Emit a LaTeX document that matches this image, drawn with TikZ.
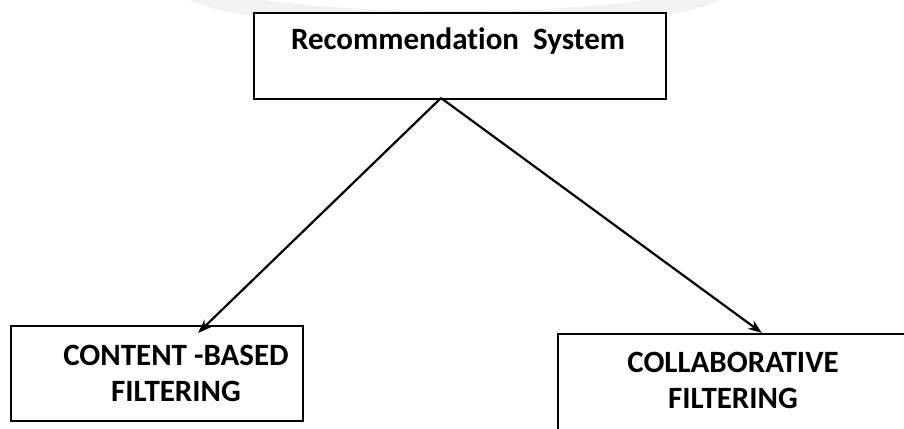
\documentclass[tikz,border=0pt]{standalone}
\usepackage{fontspec}
\setmainfont[Ligatures=NoCommon]{Carlito}
\usetikzlibrary{arrows.meta}
\tikzset{
  boxshape/.style={draw=black, line width=2.2pt, fill=white, rectangle, inner sep=0pt},
  boxtext/.style={font=\fontsize{31}{36}\selectfont\bfseries, align=center, inner sep=0pt},
  link/.style={line width=2.2pt, -{Stealth[length=14pt,width=10pt]}}
}
\begin{document}
\begin{tikzpicture}[x=1pt,y=-1pt]
  \useasboundingbox (0,0) rectangle (904,428);
  % faint watermark arc
  \draw[gray!10, line width=18pt] (190,-10) .. controls (260,30) and (650,30) .. (720,-10);
  % top box
  \node[boxshape, minimum width=412pt, minimum height=86pt, anchor=north west] (top) at (253,12) {};
  \node[boxtext] (toptext) at (458,41) {Recommendation\ \ System};
  % left box
  \node[boxshape, minimum width=292pt, minimum height=95pt, anchor=north west] (left) at (10,325) {};
  \node[boxtext] (lefttext) at (176,373) {CONTENT -BASED\\FILTERING};
  % right box
  \node[boxshape, minimum width=370pt, minimum height=120pt, anchor=north west] (right) at (557,333) {};
  \node[boxtext] (righttext) at (733,380) {COLLABORATIVE\\FILTERING};
  % connectors
  \coordinate (apex) at (441,98);
  \coordinate (ltip) at (198,333);
  \coordinate (rtip) at (762,333);
  \draw[link] (apex) -- (ltip);
  \draw[link] (apex) -- (rtip);
\end{tikzpicture}
\end{document}
